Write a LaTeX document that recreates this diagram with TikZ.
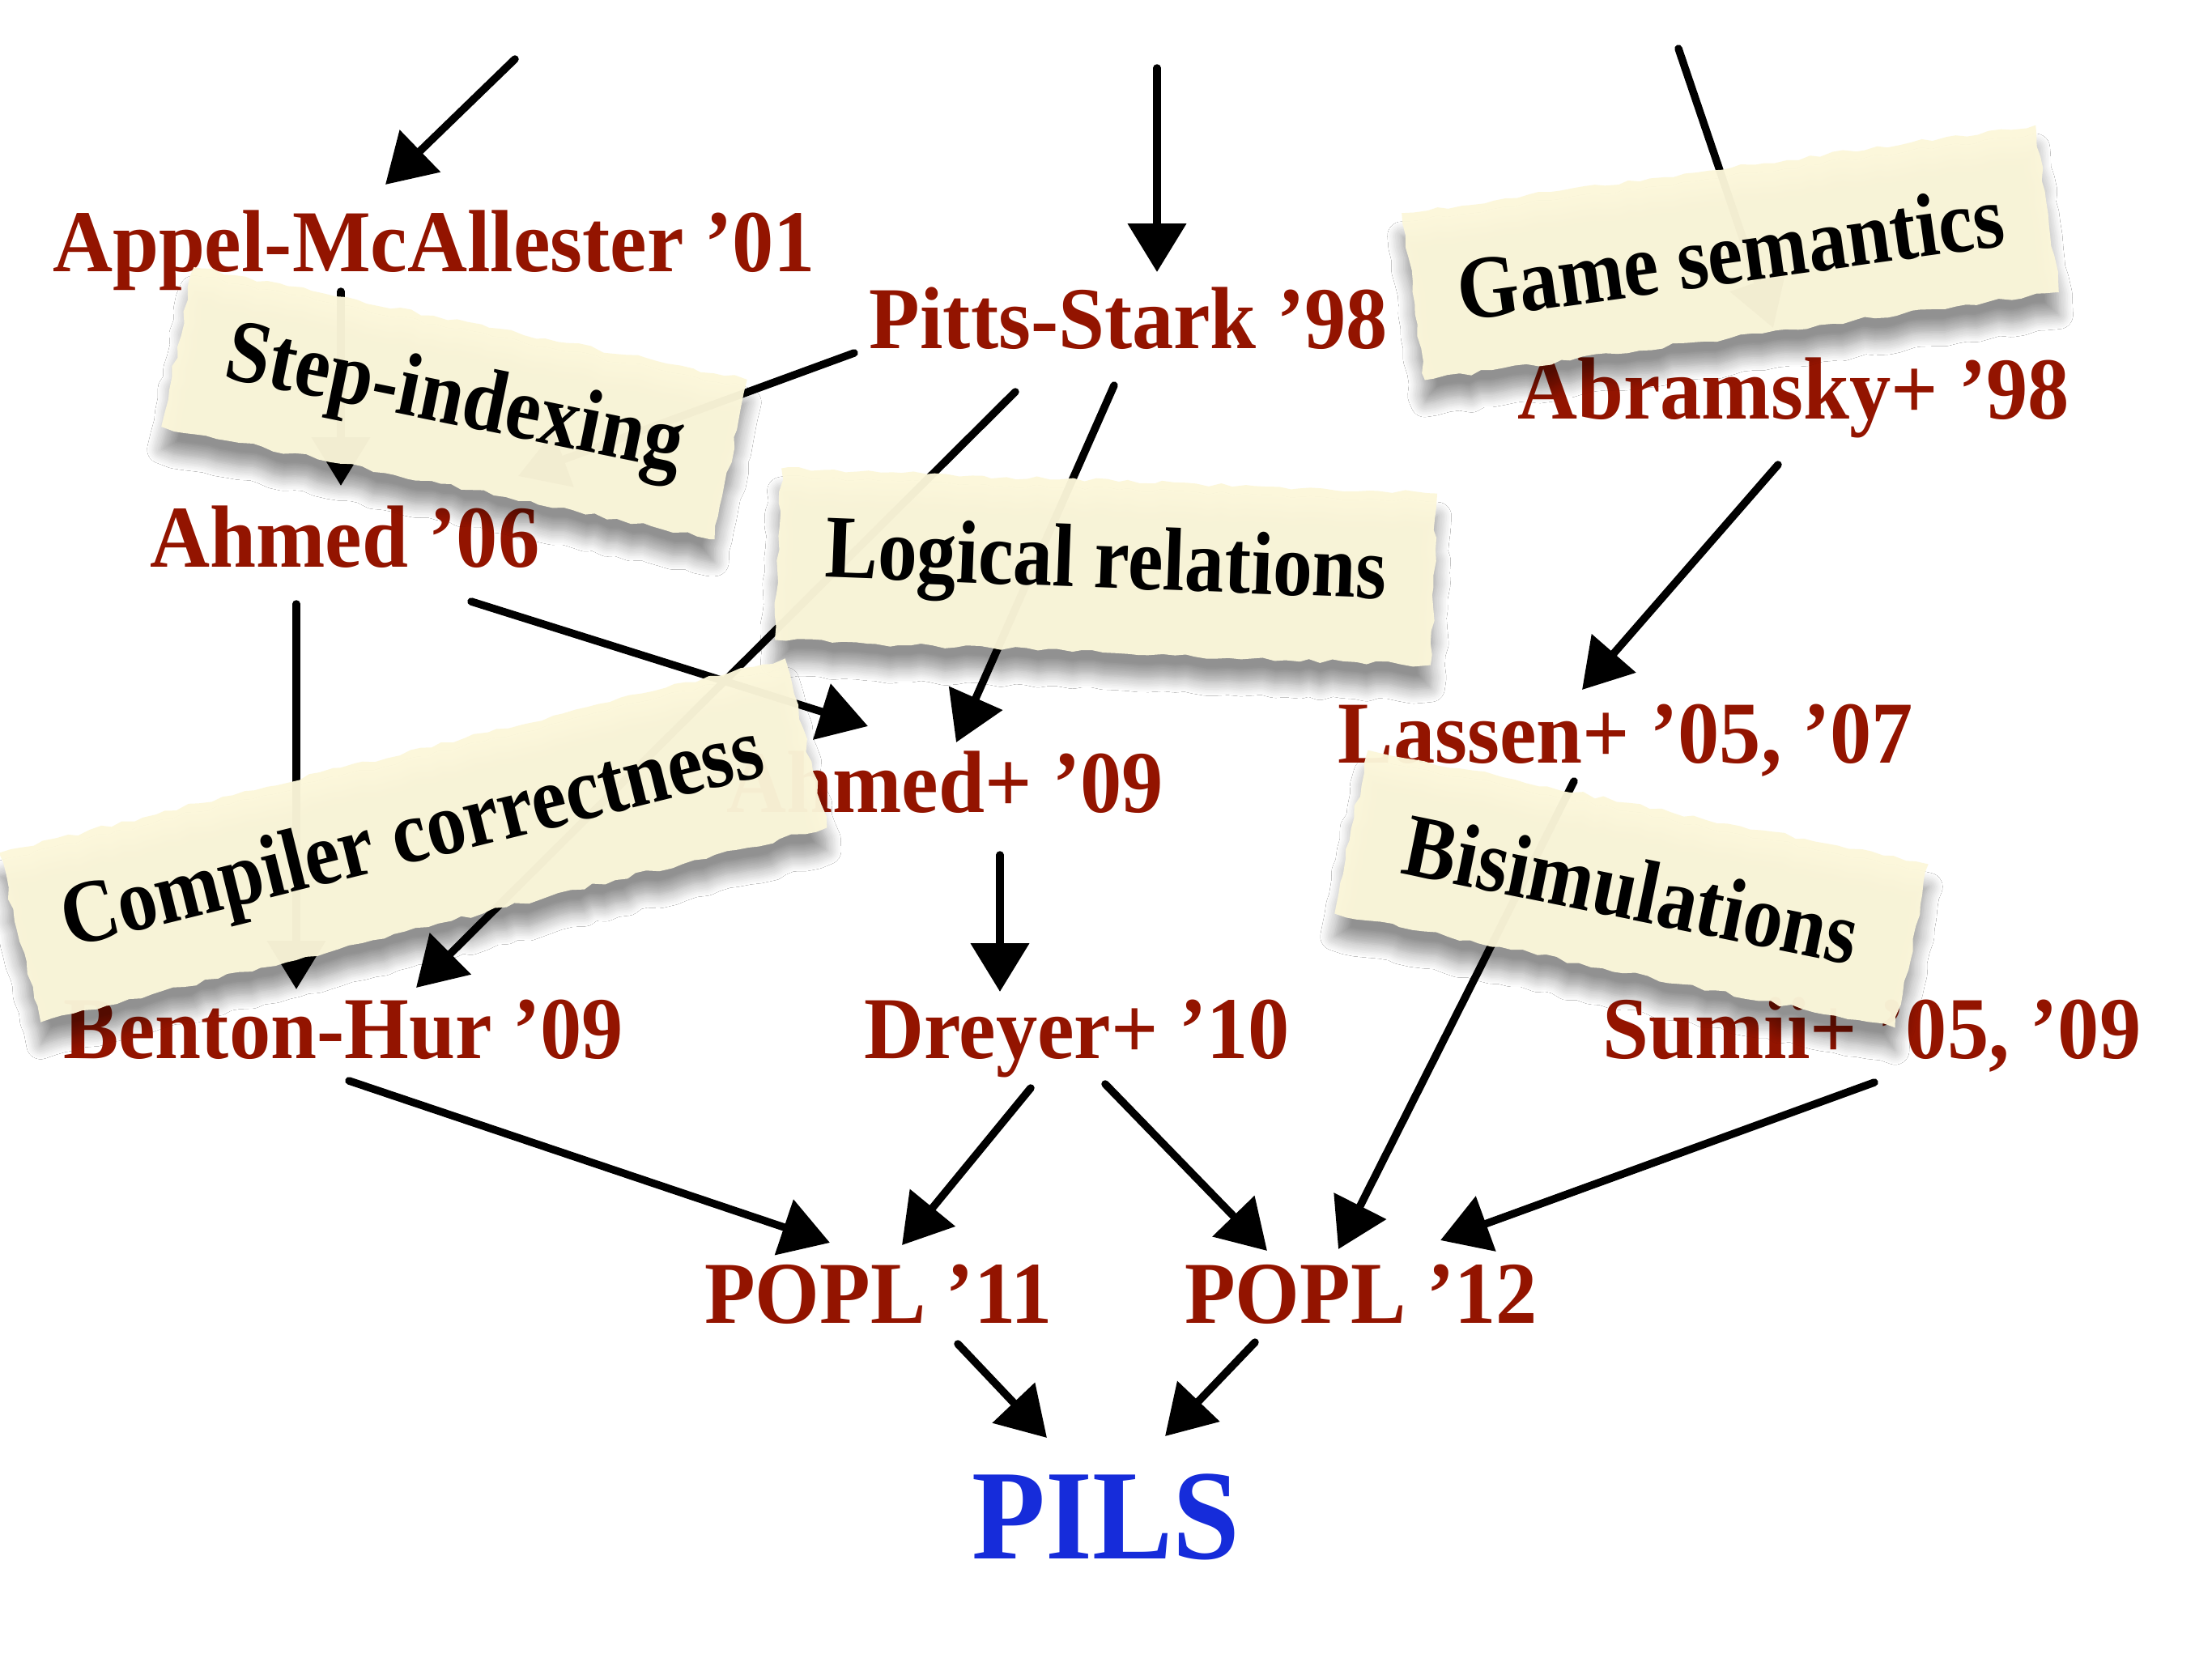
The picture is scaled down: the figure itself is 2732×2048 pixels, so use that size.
\documentclass[tikz,border=0pt]{standalone}
\usepackage{fontspec}
\setmainfont{Liberation Serif}[FakeStretch=0.94]
\newfontfamily\scrapfont{Liberation Serif}[FakeStretch=0.88]
\usetikzlibrary{arrows.meta,decorations.pathmorphing,shadows.blur}
\definecolor{citered}{RGB}{147,20,0}
\definecolor{pilsblue}{RGB}{22,44,218}
\definecolor{paper}{RGB}{252,247,218}
\begin{document}
\begin{tikzpicture}[x=0.01cm,y=-0.01cm,
  cite/.style={text=citered,font=\fontsize{31}{36}\selectfont\bfseries,inner sep=0pt,anchor=base},
  goal/.style={text=pilsblue,font=\fontsize{45}{50}\selectfont\bfseries,inner sep=0pt,anchor=base},
  arr/.style={line width=2.7pt,line cap=round,-{Triangle[length=17pt,width=20pt]}},
  scrap/.style={fill=paper,fill opacity=0.96,text opacity=1,text=black,
    font=\scrapfont\fontsize{31.5}{36}\selectfont\bfseries,inner sep=0pt,
    decorate,decoration={random steps,segment length=4pt,amplitude=0.8pt},
    blur shadow={shadow xshift=0pt,shadow yshift=-8pt,shadow blur radius=5pt,
      shadow blur steps=10,shadow opacity=45}}]
\pgfmathsetseed{4711}
\useasboundingbox[fill=white] (0,0) rectangle (2732,2048);

% references
\node[cite] (appel)    at (536,335)  {Appel-McAllester ’01};
\node[cite] (pitts)    at (1394,430) {Pitts-Stark ’98};
\node[cite] (abramsky) at (2215,517) {Abramsky+ ’98};
\node[cite] (ahmed06)  at (426,700)  {Ahmed ’06};
\node[cite] (ahmed09)  at (1167,1003){Ahmed+ ’09};
\node[cite] (lassen)   at (2008,942) {Lassen+ ’05, ’07};
\node[cite] (benton)   at (424,1307) {Benton-Hur ’09};
\node[cite] (dreyer)   at (1330,1307){Dreyer+ ’10};
\node[cite] (sumii)    at (2312,1307){Sumii+ ’05, ’09};
\node[cite] (popl11)   at (1085,1634){POPL ’11};
\node[cite] (popl12)   at (1681,1634){POPL ’12};
\node[goal] (pils)     at (1366,1925){PILS};

% incoming edges from above
\coordinate (inA) at (636,73);
\coordinate (inB) at (1429,84);
\coordinate (inC) at (2073,60);

\draw[arr] (inA) -- ([shift={(-60,-107)}]appel.base);
\draw[arr] (inB) -- ([shift={(35,-94)}]pitts.base);
\draw[arr] (inC) -- ([shift={(-25,-112)}]abramsky.base);

% citation edges
\draw[arr] ([shift={(-115,25)}]appel.base) -- ([shift={(-5,-100)}]ahmed06.base);
\draw[arr] ([shift={(-339,6)}]pitts.base) -- ([shift={(214,-112)}]ahmed06.base);
\draw[arr] ([shift={(-140,54)}]pitts.base) -- ([shift={(90,-87)}]benton.base);
\draw[arr] ([shift={(-18,46)}]pitts.base) -- ([shift={(14,-86)}]ahmed09.base);
\draw[arr] ([shift={(156,43)}]ahmed06.base) -- ([shift={(-95,-106)}]ahmed09.base);
\draw[arr] ([shift={(-60,46)}]ahmed06.base) -- ([shift={(-58,-85)}]benton.base);
\draw[arr] ([shift={(-19,57)}]abramsky.base) -- ([shift={(-54,-90)}]lassen.base);
\draw[arr] ([shift={(68,53)}]ahmed09.base) -- ([shift={(-95,-82)}]dreyer.base);
\draw[arr] ([shift={(-64,23)}]lassen.base) -- ([shift={(-28,-91)}]popl12.base);
\draw[arr] ([shift={(3,30)}]sumii.base) -- ([shift={(98,-102)}]popl12.base);
\draw[arr] ([shift={(-57,37)}]dreyer.base) -- ([shift={(29,-96)}]popl11.base);
\draw[arr] ([shift={(35,32)}]dreyer.base) -- ([shift={(-116,-89)}]popl12.base);
\draw[arr] ([shift={(7,28)}]benton.base) -- ([shift={(-60,-99)}]popl11.base);
\draw[arr] ([shift={(98,26)}]popl11.base) -- ([shift={(-73,-149)}]pils.base);
\draw[arr] ([shift={(-131,24)}]popl12.base) -- ([shift={(73,-151)}]pils.base);

% topic scraps
\node[scrap,rotate=-11.5,minimum width=198.3pt,minimum height=57.2pt] (step)  at (561,498)  {Step-indexing};
\node[scrap,rotate=7.9,minimum width=224.8pt,minimum height=59.2pt]  (game)  at (2137,312) {Game semantics};
\node[scrap,rotate=-2.2,minimum width=230.5pt,minimum height=60.3pt] (logrel) at (1366,700) {Logical relations};
\node[scrap,rotate=13.9,minimum width=284.5pt,minimum height=61.2pt] (comp)  at (510,1038) {Compiler correctness};
\node[scrap,rotate=-11.5,minimum width=200.9pt,minimum height=58.6pt] (bisim) at (2015,1098) {Bisimulations};
\end{tikzpicture}
\end{document}
